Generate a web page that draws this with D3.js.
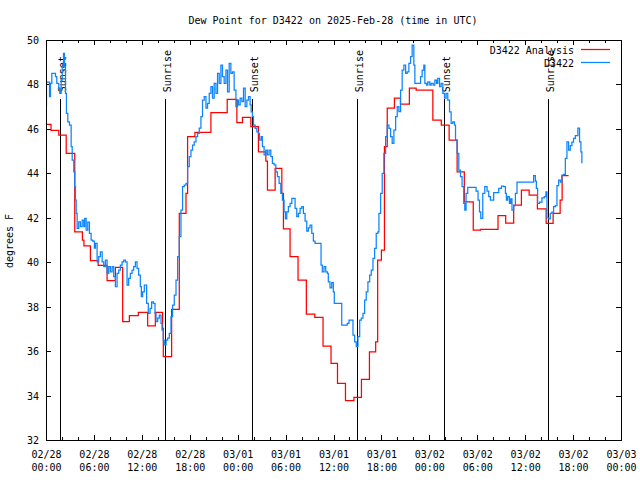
<!DOCTYPE html>
<html><head><meta charset="utf-8">
<script src="https://cdn.jsdelivr.net/npm/d3@7"></script>
<style>
body{margin:0;background:#fff}
svg{display:block}
text{font-family:"DejaVu Sans Mono","Liberation Mono",monospace;font-size:10px;fill:#000}
</style>
</head><body>
<svg id="chart" width="640" height="480"></svg>
<script>
// ---------------- data ----------------
const chartTitle = "Dew Point for D3422 on 2025-Feb-28 (time in UTC)";
const yAxisLabel = "degrees F";
const seriesNames = ["D3422 Analysis", "D3422"];
const seriesColors = ["#ff0000", "#0a84ff"];
const startUTC = Date.UTC(2025, 1, 28, 0, 0);
const spanHours = 72;
const yDomain = [32, 50];
const yTickValues = [32, 34, 36, 38, 40, 42, 44, 46, 48, 50];

const sunHours = [1.75, 14.9, 25.8, 38.94, 49.84, 62.86];
const sunLabels = ["Sunset", "Sunrise", "Sunset", "Sunrise", "Sunset", "Sunrise"];
const sunLineTopValue = 47.35;
const sunLabelStartValue = 47.65;

// hours after 02/28 00:00 UTC, analysis (red)
const analysisHours = [0, 0.63, 1.6, 2.53, 3.6, 4.56, 4.75, 5.56, 6.53, 7.65,
  8.69, 9.6, 10.44, 11.56, 12.73, 13.69, 14.6, 14.69, 15.73, 16.69,
  17.53, 17.73, 18.65, 20.65, 22.69, 23.9, 24.6, 25.65, 26.6, 27.53,
  27.73, 28.69, 29.53, 29.73, 30.56, 31.56, 32.6, 33.65, 34.69, 35.69,
  36.5, 37.5, 38.56, 39.5, 40.5, 41.28, 41.53, 42.0, 42.38, 42.73,
  43.63, 44.38, 45.5, 46.35, 48.44, 49.5, 50.48, 51.48, 52.38, 53.5,
  54.4, 56.6, 57.56, 58.56, 59.53, 60.5, 61.53, 62.63, 63.5, 64.38,
  64.63, 65.44];
const analysisValues = [46.2, 45.93, 45.72, 44.9, 41.37, 41.0, 40.74, 40.07, 39.86, 39.17,
  39.77, 37.33, 37.6, 37.74, 37.14, 37.74, 37.02, 35.75, 37.88, 42.2,
  43.1, 45.65, 45.84, 46.73, 47.33, 46.28, 46.52, 46.1, 44.97, 44.55,
  43.25, 44.22, 43.1, 41.5, 40.25, 39.2, 37.66, 37.52, 36.23, 35.45,
  34.55, 33.77, 33.92, 34.73, 35.97, 36.42, 40.1, 40.55, 45.2, 46.93,
  47.38, 47.12, 47.83, 47.75, 46.4, 46.17, 45.5, 44.07, 42.72, 41.45,
  41.48, 42.1, 41.76, 42.57, 43.25, 43.02, 42.4, 41.75, 42.2, 42.8,
  43.9, 43.9];

// hours after 02/28 00:00 UTC, observations (blue)
const obsHours = [
  0.00,0.06,0.44,0.56,0.73,1.19,1.35,1.60,1.73,1.90,
  2.03,2.19,2.31,2.44,2.56,2.73,2.94,3.15,3.28,3.48,
  3.60,3.69,3.78,3.90,4.10,4.31,4.53,4.73,4.85,5.03,
  5.23,5.44,5.65,5.85,6.06,6.19,6.40,6.60,6.81,7.03,
  7.23,7.44,7.65,7.85,8.06,8.28,8.48,8.69,8.90,9.10,
  9.31,9.53,9.73,9.94,10.15,10.35,10.56,10.78,10.98,11.19,
  11.40,11.60,11.81,11.94,12.10,12.31,12.60,12.81,13.03,13.23,
  13.44,13.65,13.78,13.98,14.19,14.40,14.53,14.69,14.81,15.03,
  15.23,15.44,15.65,15.85,16.06,16.28,16.48,16.69,16.90,17.10,
  17.31,17.53,17.73,17.94,18.15,18.35,18.56,18.78,18.98,19.19,
  19.40,19.60,19.81,20.03,20.23,20.44,20.65,20.85,21.06,21.28,
  21.48,21.69,21.90,22.10,22.31,22.53,22.73,22.94,23.15,23.35,
  23.56,23.78,23.98,24.10,24.31,24.53,24.73,24.94,25.15,25.35,
  25.56,25.69,25.85,25.98,26.19,26.40,26.60,26.73,26.94,27.10,
  27.31,27.53,27.73,27.94,28.15,28.35,28.56,28.78,28.98,29.19,
  29.40,29.60,29.81,29.98,30.15,30.35,30.56,30.78,31.19,31.40,
  31.60,31.81,32.03,32.23,32.44,32.65,32.85,33.06,33.28,33.48,
  33.69,34.44,34.60,34.81,35.03,35.23,35.35,35.56,35.78,35.98,
  36.10,37.03,37.73,37.94,38.44,38.65,38.85,39.06,39.28,39.48,
  39.69,39.90,40.10,40.31,40.53,40.73,40.94,41.15,41.35,41.56,
  41.69,41.90,42.10,42.31,42.53,42.73,42.94,43.15,43.35,43.56,
  43.78,43.98,44.19,44.40,44.60,44.81,45.03,45.23,45.44,45.65,
  45.85,46.06,46.19,46.90,47.10,47.31,47.44,47.65,47.81,48.06,
  48.23,48.48,48.69,48.90,49.06,49.28,49.48,49.69,49.90,50.10,
  50.31,50.53,50.73,50.94,51.15,51.28,51.48,51.69,51.90,52.10,
  52.31,52.44,52.60,52.81,53.85,54.10,54.28,54.44,54.69,54.94,
  55.23,55.44,55.65,56.06,56.69,57.03,57.31,57.53,57.65,57.81,
  58.03,58.19,58.35,58.56,58.78,58.98,61.06,61.28,61.40,61.56,
  61.81,62.10,62.40,62.60,62.73,62.94,63.15,63.35,63.56,63.78,
  63.98,64.19,64.40,64.60,64.81,65.03,65.23,65.44,65.65,65.85,
  66.06,66.28,66.60,66.81,66.98,67.10];
const obsValues = [
  47.07,48.10,47.45,48.05,48.50,48.35,48.05,47.83,47.60,48.20,
  48.80,49.40,48.80,47.60,46.70,46.32,46.17,45.20,44.60,44.07,
  43.40,42.80,42.20,41.52,41.82,41.60,41.90,41.60,41.97,41.45,
  41.80,41.30,41.00,40.95,40.63,40.85,40.02,40.25,40.47,40.02,
  39.80,40.10,39.50,39.80,39.57,39.80,39.35,38.90,39.50,39.65,
  39.87,40.02,40.10,40.02,38.97,39.27,39.50,39.65,39.80,40.02,
  39.72,39.42,38.90,38.45,38.67,38.97,38.15,37.70,37.92,38.22,
  38.15,37.70,37.33,37.48,37.62,37.25,36.95,36.50,36.28,36.50,
  36.58,36.80,37.55,38.07,38.52,39.20,40.25,41.15,42.35,43.40,
  43.47,43.55,44.30,44.75,45.05,45.27,45.42,45.65,45.80,46.03,
  46.55,47.30,47.45,46.93,47.15,47.60,47.90,47.38,48.05,47.60,
  48.50,48.05,48.87,48.35,48.05,48.65,47.67,48.95,48.50,48.57,
  47.75,47.00,47.30,47.08,47.38,47.23,47.83,47.00,47.30,47.45,
  47.08,46.77,46.55,46.17,46.02,45.87,45.80,45.50,45.65,45.20,
  44.83,45.05,44.83,45.05,44.75,44.45,44.38,44.07,43.85,43.55,
  43.10,42.80,42.27,41.95,42.27,42.50,42.65,42.87,42.42,42.05,
  42.20,42.42,42.50,42.20,41.85,41.40,41.55,41.67,41.30,40.95,
  40.85,39.87,39.57,39.80,39.57,39.50,39.12,38.85,39.08,38.67,
  38.15,37.17,37.25,37.40,36.72,36.42,36.20,36.65,37.40,37.48,
  37.70,38.30,38.67,39.12,39.42,39.65,40.17,40.62,41.30,41.37,
  42.20,43.10,44.00,44.90,45.65,46.17,46.02,45.65,45.35,45.95,
  46.55,47.00,46.78,47.75,48.65,48.87,48.50,48.57,48.95,49.25,
  49.77,48.87,48.05,48.35,48.65,48.87,48.05,47.97,48.12,47.97,
  48.05,47.97,48.20,48.05,48.27,47.90,48.05,47.60,47.38,47.60,
  47.30,46.77,46.25,46.32,46.17,45.50,44.90,44.15,43.85,43.40,
  42.65,42.35,43.10,43.37,43.20,42.80,42.27,41.97,43.10,43.40,
  43.20,42.95,42.80,43.13,43.32,43.43,43.40,43.10,42.80,42.95,
  42.65,42.85,42.35,42.55,43.10,43.60,43.90,43.65,43.32,42.65,
  42.70,42.90,42.95,43.17,42.00,41.95,42.20,42.25,42.50,42.55,
  43.45,43.70,43.60,43.92,43.95,44.67,45.42,45.05,45.25,45.40,
  45.57,45.70,46.03,45.42,44.97,44.45];

// ---------------- chart ----------------
const HOUR = 3600 * 1000;
const toDate = h => new Date(startUTC + h * HOUR);
const svg = d3.select("#chart");
const W = 640, H = 480;
const plot = {left: 46, right: 621, top: 40, bottom: 440};

const x = d3.scaleUtc()
  .domain([toDate(0), toDate(spanHours)])
  .range([plot.left, plot.right]);
const y = d3.scaleLinear().domain(yDomain).range([plot.bottom, plot.top]);

svg.append("rect").attr("width", W).attr("height", H).attr("fill", "#fff");

// title
svg.append("text").attr("x", 333).attr("y", 24).attr("text-anchor", "middle").text(chartTitle);

// y label
svg.append("text")
  .attr("transform", "translate(13," + ((plot.top + plot.bottom) / 2 + 1) + ") rotate(-90)")
  .attr("text-anchor", "middle").text(yAxisLabel);

const majorTimes = d3.range(0, spanHours + 1, 6).map(toDate);
const minorTimes = d3.range(0, spanHours + 1, 2).filter(h => h % 6 !== 0).map(toDate);

function styleAxis(g) {
  g.select(".domain").remove();
  g.selectAll(".tick line").attr("stroke", "#000").attr("shape-rendering", "crispEdges");
  g.attr("font-family", null).attr("font-size", null);
}

// bottom axis: major ticks with two-line labels
const fmtDay = d3.utcFormat("%m/%d"), fmtTime = d3.utcFormat("%H:%M");
const bottom = svg.append("g").attr("transform", "translate(0," + plot.bottom + ")")
  .call(d3.axisBottom(x).tickValues(majorTimes).tickSize(-5).tickFormat(fmtDay))
  .call(styleAxis);
bottom.selectAll(".tick text").each(function(d) {
  const t = d3.select(this);
  t.text(null).attr("y", null).attr("dy", null).attr("fill", null);
  t.append("tspan").attr("x", 0).attr("y", 18).text(fmtDay(d));
  t.append("tspan").attr("x", 0).attr("y", 31).text(fmtTime(d));
});
svg.append("g").attr("transform", "translate(0," + plot.bottom + ")")
  .call(d3.axisBottom(x).tickValues(minorTimes).tickSize(-3).tickFormat(""))
  .call(styleAxis);

// top axis (mirror ticks)
svg.append("g").attr("transform", "translate(0," + plot.top + ")")
  .call(d3.axisTop(x).tickValues(majorTimes).tickSize(-5).tickFormat(""))
  .call(styleAxis);
svg.append("g").attr("transform", "translate(0," + plot.top + ")")
  .call(d3.axisTop(x).tickValues(minorTimes).tickSize(-3).tickFormat(""))
  .call(styleAxis);

// left axis
const left = svg.append("g").attr("transform", "translate(" + plot.left + ",0)")
  .call(d3.axisLeft(y).tickValues(yTickValues).tickSize(-5).tickPadding(7).tickFormat(d3.format("d")))
  .call(styleAxis);
left.selectAll(".tick text").attr("fill", null).attr("dy", "0.35em");

// right axis
svg.append("g").attr("transform", "translate(" + plot.right + ",0)")
  .call(d3.axisRight(y).tickValues(yTickValues).tickSize(-5).tickFormat(""))
  .call(styleAxis);

// sunrise / sunset lines
const sun = svg.append("g");
sunHours.forEach((h, i) => {
  const sx = Math.round(x(toDate(h))) + 0.5;
  sun.append("line")
    .attr("x1", sx).attr("x2", sx)
    .attr("y1", y(yDomain[0]) + 0.5).attr("y2", y(sunLineTopValue))
    .attr("stroke", "#000").attr("stroke-width", 1).attr("shape-rendering", "crispEdges");
  sun.append("text")
    .attr("transform", "translate(" + (sx + 5) + "," + y(sunLabelStartValue) + ") rotate(-90)")
    .attr("text-anchor", "start").text(sunLabels[i]);
});

// data lines
const analysis = analysisHours.map((h, i) => ({t: toDate(h), v: analysisValues[i]}));
const obs = obsHours.map((h, i) => ({t: toDate(h), v: obsValues[i]}));
const line = d3.line().x(d => x(d.t)).y(d => y(d.v)).curve(d3.curveStepAfter);

svg.append("clipPath").attr("id", "clip").append("rect")
  .attr("x", plot.left).attr("y", plot.top).attr("width", plot.right - plot.left).attr("height", plot.bottom - plot.top);

const dataG = svg.append("g").attr("clip-path", "url(#clip)");
dataG.append("path").datum(analysis).attr("d", line)
  .attr("fill", "none").attr("stroke", seriesColors[0]).attr("stroke-width", 1.25);
dataG.append("path").datum(obs).attr("d", line)
  .attr("fill", "none").attr("stroke", seriesColors[1]).attr("stroke-width", 1.25);

// border
svg.append("rect")
  .attr("x", plot.left + 0.5).attr("y", plot.top + 0.5)
  .attr("width", plot.right - plot.left).attr("height", plot.bottom - plot.top)
  .attr("fill", "none").attr("stroke", "#000").attr("stroke-width", 1).attr("shape-rendering", "crispEdges");

// legend
const legend = svg.append("g");
seriesNames.forEach((name, i) => {
  const ly = 49.5 + i * 13;
  legend.append("text").attr("x", 574).attr("y", ly + 4.5).attr("text-anchor", "end").text(name);
  legend.append("line").attr("x1", 581).attr("x2", 610).attr("y1", ly).attr("y2", ly)
    .attr("stroke", seriesColors[i]).attr("stroke-width", 1.25);
});
</script>
</body></html>
